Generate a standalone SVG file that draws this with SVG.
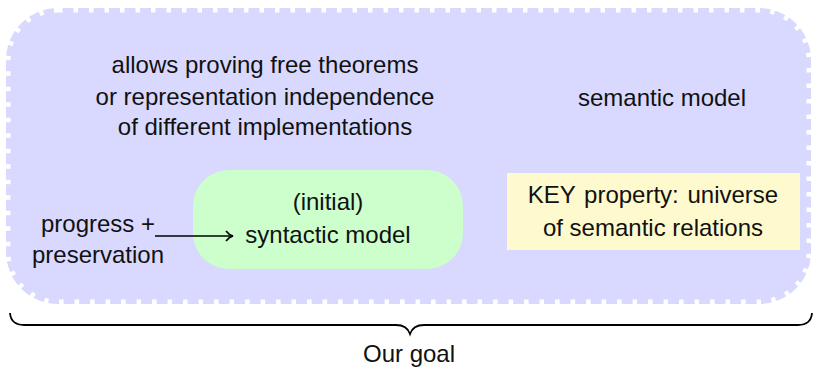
<svg xmlns="http://www.w3.org/2000/svg" width="817" height="370" viewBox="0 0 817 370">
<defs>
<style>
text{font-family:"Liberation Sans",Arial,sans-serif;font-size:24px;fill:#111;text-anchor:middle}
</style>
<marker id="arr" markerWidth="12" markerHeight="12" refX="9" refY="6" orient="auto" markerUnits="userSpaceOnUse">
<path d="M2,1 Q5,5 9,6 Q5,7 2,11" fill="none" stroke="#000" stroke-width="1.6"/>
</marker>
</defs>
<rect width="817" height="370" fill="#fff"/>
<g id="outer">
<rect x="6" y="8" width="805" height="296" rx="52" ry="52" fill="#d9d9ff" stroke="#fff" stroke-width="9" stroke-dasharray="4.5 11"/>
<text x="265" y="73">allows proving free theorems</text>
<text x="265" y="105">or representation independence</text>
<text x="265" y="135">of different implementations</text>
<text x="662" y="106">semantic model</text>
</g>
<g id="syntactic">
<rect x="193" y="170" width="270" height="99" rx="36" ry="36" fill="#ccffcc"/>
<text x="328" y="210">(initial)</text>
<text x="328" y="243">syntactic model</text>
</g>
<g id="key">
<rect x="507" y="173" width="293" height="77" fill="#fffacd"/>
<text x="653" y="203" word-spacing="2">KEY property:  universe</text>
<text x="653" y="236">of semantic relations</text>
</g>
<g id="progress">
<text x="98" y="232">progress +</text>
<text x="98" y="263">preservation</text>
</g>
<g id="connectors">
<line x1="155" y1="236" x2="233" y2="236" stroke="#000" stroke-width="1.6" marker-end="url(#arr)"/>
<path d="M10,313 Q11,325 24,325 L396,325 Q407,325 410,334 Q413,325 424,325 L798,325 Q811,325 812,313" fill="none" stroke="#000" stroke-width="1.8"/>
</g>
<g id="goal">
<text x="409" y="362">Our goal</text>
</g>
</svg>
